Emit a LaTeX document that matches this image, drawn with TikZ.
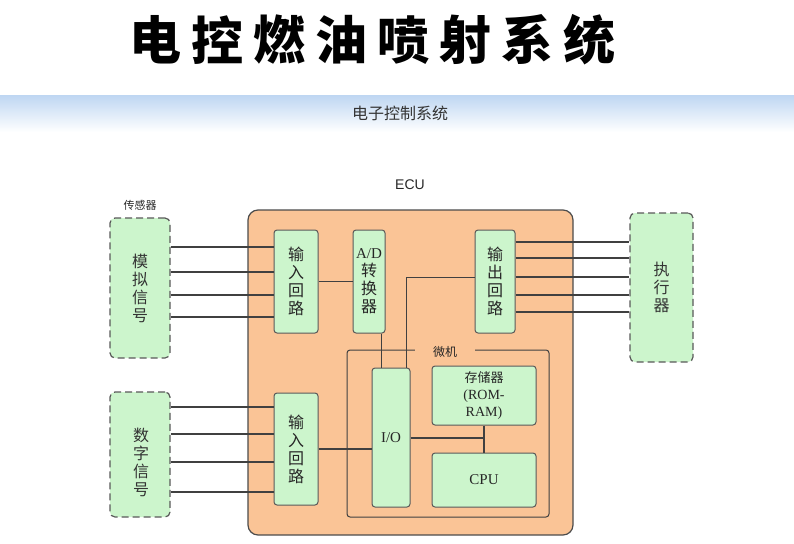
\documentclass[tikz,border=0pt]{standalone}
\usepackage{fontspec}
\setmainfont{Liberation Serif}
\setsansfont{Liberation Sans}
\newfontfamily\cjk{Noto Sans CJK SC}
\definecolor{ecuorange}{RGB}{250,196,150}
\definecolor{boxgreen}{RGB}{204,245,204}
\definecolor{wiregray}{RGB}{64,64,64}
\definecolor{bandblue}{RGB}{190,214,242}
\tikzset{
  sensorbox/.style={draw=black!65,fill=boxgreen,line width=1.2pt,dash pattern=on 7pt off 4pt,rounded corners=5pt,align=center,text=black!80},
  circbox/.style={draw=black!65,fill=boxgreen,line width=1pt,rounded corners=3pt,align=center,text=black!85},
  wire/.style={draw=wiregray,line width=1.1pt},
  bigtext/.style={font=\cjk\fontsize{16}{18}\selectfont},
}
\begin{document}
\begin{tikzpicture}[x=1pt,y=-1pt]
\useasboundingbox (0,0) rectangle (794,543);

% title
\foreach \c [count=\i from 0] in {电,控,燃,油,喷,射,系,统}
  \node (title\i) at (155+62*\i,40) [font=\cjk\bfseries\fontsize{52}{52}\selectfont] {\c};

% band
\fill [top color=bandblue,bottom color=white] (0,95) rectangle (794,132);
\node (band) at (400,113) [font=\cjk\fontsize{16}{16}\selectfont,text=black!80] {电子控制系统};

% ecu
\node (ecu) at (410.5,372.5) [draw=black!70,fill=ecuorange,line width=1.2pt,rounded corners=10pt,minimum width=325,minimum height=325] {};
\node (ecutxt) at (410,185) [font=\sffamily\fontsize{14}{14}\selectfont,text=black!85] {ECU};
\node (micro) at (448,433.5) [draw=wiregray,line width=1pt,rounded corners=3pt,minimum width=202,minimum height=167] {};
\node (microtxt) at (445,352) [fill=ecuorange,inner xsep=18pt,inner ysep=1pt,font=\cjk\fontsize{12}{12}\selectfont,text=black!85] {微机};

% sensors and actuator
\node (senstxt) at (140,205) [font=\cjk\fontsize{11}{11}\selectfont,text=black!85] {传感器};
\node (sensA) at (140,288) [sensorbox,bigtext,minimum width=60,minimum height=140] {模\\拟\\信\\号};
\node (sensD) at (140,454.5) [sensorbox,minimum width=60,minimum height=125] {};
\node (sensDtxt) at (141,462) [bigtext,align=center,text=black!80] {数\\字\\信\\号};
\node (act) at (661.5,287.5) [sensorbox,bigtext,minimum width=63,minimum height=149] {执\\行\\器};

% circuits
\node (inA) at (296,281.5) [circbox,bigtext,minimum width=44,minimum height=103,inner sep=1pt] {输\\入\\回\\路};
\node (adc) at (369,281.5) [circbox,bigtext,minimum width=32,minimum height=103,inner sep=1pt] {{\rmfamily\fontsize{15}{15}\selectfont A/D}\\转\\换\\器};
\node (outc) at (495,281.5) [circbox,bigtext,minimum width=40,minimum height=103,inner sep=1pt] {输\\出\\回\\路};
\node (inD) at (296,449) [circbox,bigtext,minimum width=44,minimum height=112,inner sep=1pt] {输\\入\\回\\路};
\node (io) at (391,437.5) [circbox,font=\rmfamily\fontsize{15}{15}\selectfont,minimum width=38,minimum height=139] {I/O};
\node (mem) at (484,395.5) [circbox,font=\rmfamily\fontsize{14}{17}\selectfont,minimum width=104,minimum height=59,inner sep=1pt] {{\cjk\fontsize{13}{13}\selectfont 存储器}\\(ROM-\\RAM)};
\node (cpu) at (484,480) [circbox,font=\rmfamily\fontsize{15}{15}\selectfont,minimum width=104,minimum height=54] {CPU};

% wires
\foreach \y in {247,272,295,317}
  \draw [wire] (sensA.east |- 0,\y) -- (inA.west |- 0,\y);
\foreach \y in {407,434,462,492}
  \draw [wire] (sensD.east |- 0,\y) -- (inD.west |- 0,\y);
\foreach \y in {242,258,277,295,312}
  \draw [wire] (outc.east |- 0,\y) -- (act.west |- 0,\y);
\draw [wire] (inA.east) -- (adc.west);
\draw [wire] ([xshift=-4]adc.south east) -- ([xshift=-4]adc.south east |- io.north);
\draw [wire] ([yshift=4]outc.west) -| ([xshift=-4]io.north east);
\draw [wire] (inD.east) -- (io.west |- inD.east);
\coordinate (junc) at (mem.south |- 0,438);
\draw [wire] (io.east |- junc) -- (junc);
\draw [wire] (mem.south) -- (cpu.north);

\end{tikzpicture}
\end{document}
